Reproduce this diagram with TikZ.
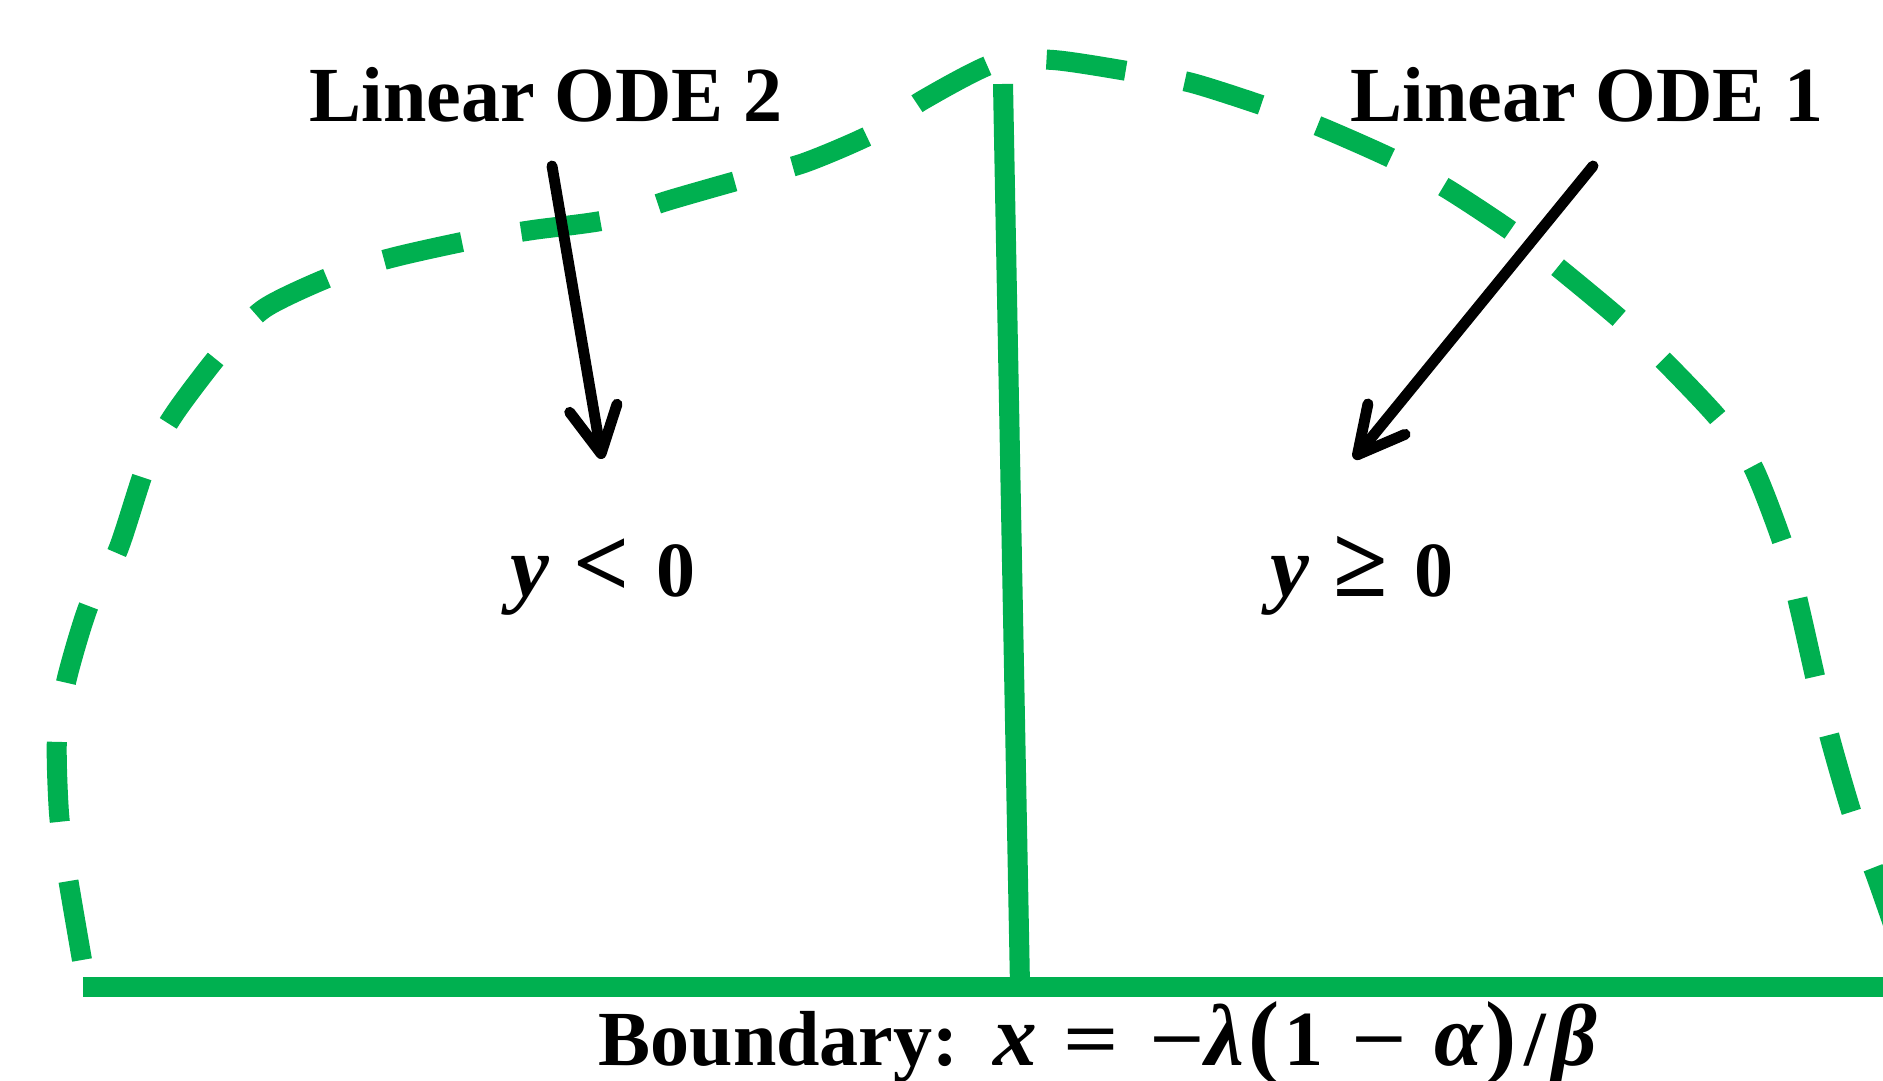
\documentclass[tikz,border=0pt]{standalone}
\usepackage{fontspec}
\setmainfont{Liberation Serif}
\usepackage{tikz}
\usetikzlibrary{arrows.meta}
\definecolor{odegreen}{RGB}{0,176,80}
\newcommand{\odevar}[1]{\scalebox{1.12}{\textbf{\textit{#1}}}}
\newcommand{\odeop}[1]{\scalebox{1.25}[1]{#1}}

\begin{document}
\begin{tikzpicture}[>={Straight Barb[length=4.6mm,width=4.8mm,line cap=round,line join=round]}, font=\fontsize{22.2}{26}\selectfont\bfseries]
	\tikzset{
		region/.style={odegreen, line width=5.7pt},
		phase/.style={region, dash pattern=on 0.8cm off 0.6cm},
		pointer/.style={->, line width=3.1pt, line cap=round},
		lbl/.style={inner sep=0pt, anchor=base},
		lblw/.style={inner sep=0pt, anchor=base west}
	}
	\useasboundingbox (0,0) rectangle (18.83,10.80);
	\clip (0,0) rectangle (18.83,10.80);
	% dashed outline of the domain
	\draw[phase] plot[smooth, tension=0.45] coordinates {
		(0.82,1.20) (0.67,2.08) (0.59,2.67) (0.57,3.43) (0.67,4.02) (0.89,4.75)
		(1.18,5.30) (1.47,6.17) (1.75,6.67) (2.23,7.30) (2.65,7.72) (3.35,8.05)
		(3.95,8.23) (4.72,8.40) (5.33,8.50) (6.06,8.60) (6.70,8.80) (7.40,9.00)
		(8.04,9.17) (8.74,9.47) (9.23,9.80) (9.95,10.17) (10.53,10.20) (11.33,10.08)
		(11.92,9.97) (12.67,9.73) (13.23,9.52) (13.95,9.20) (14.49,8.90) (15.14,8.47)
		(15.61,8.10) (16.21,7.60) (16.65,7.18) (17.18,6.62) (17.53,6.13) (17.85,5.30)
		(18.00,4.70) (18.17,3.95) (18.31,3.38) (18.53,2.63) (18.75,2.07) (18.95,1.50)};
	% boundary line and the split y = 0
	\draw[region] (0.83,0.93) -- (19.0,0.93);
	\draw[region] (10.03,9.96) -- (10.20,0.93);
	% labels
	\node[lbl] (ode2) at (5.46,9.58) {Linear ODE 2};
	\node[lbl] (ode1) at (15.87,9.58) {Linear ODE 1};
	\node[lblw] (neg) at (5.10,4.83) {\odevar{y}\hspace{0.3em}\scalebox{1.27}{<}\hspace{0.35em}0};
	\node[lblw] (pos) at (12.70,4.83) {\odevar{y}\hspace{0.3em}\scalebox{1.27}{≥}\hspace{0.35em}0};
	\node[lblw] (bdry) at (5.98,0.14) {Boundary:\hspace{0.45em}\odevar{x}\hspace{0.33em}\odeop{=}\hspace{0.4em}\odeop{−}\odevar{λ}\hspace{0.06em}\scalebox{1.2}{(}\hspace{0.06em}1\hspace{0.35em}\odeop{−}\hspace{0.35em}\odevar{α}\hspace{0.03em}\scalebox{1.2}{)}\hspace{0.1em}/\hspace{0.08em}\odevar{β}};
	% pointers
	\coordinate (t2) at (5.52,9.14); \coordinate (h2) at (6.02,6.21);
	\coordinate (t1) at (15.93,9.14); \coordinate (h1) at (13.54,6.21);
	\draw[pointer] (t2) -- (h2);
	\draw[pointer] (t1) -- (h1);
\end{tikzpicture}
\end{document}
